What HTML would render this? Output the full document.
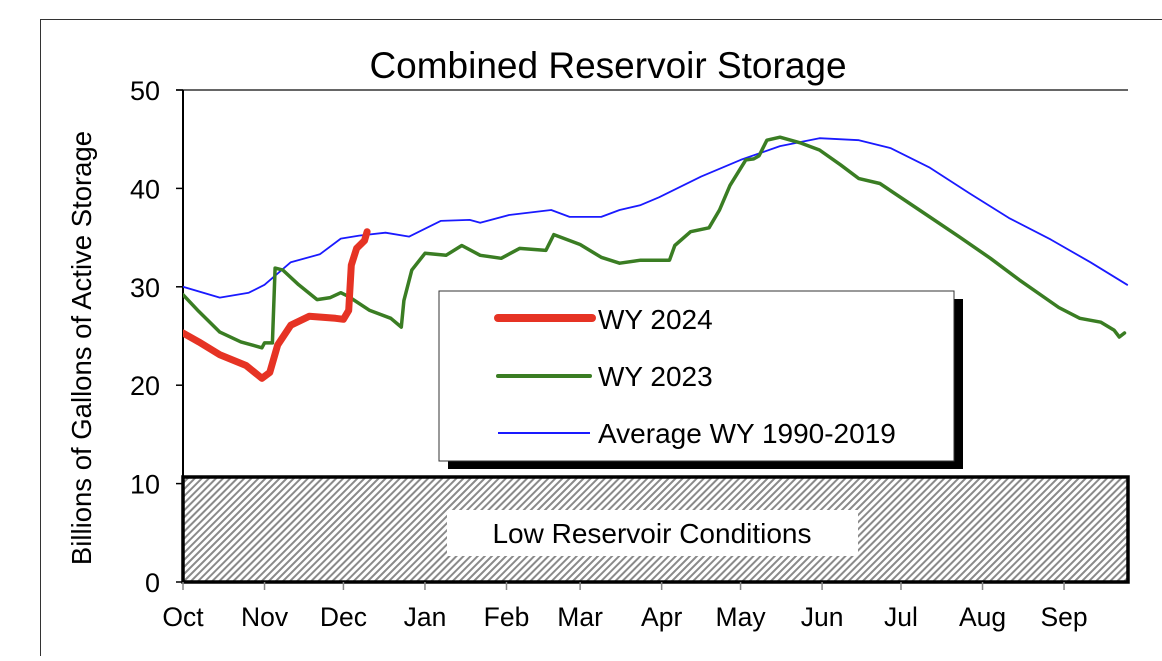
<!DOCTYPE html>
<html><head><meta charset="utf-8"><style>
body{margin:0;background:#fff;width:1162px;height:656px;overflow:hidden;font-family:"Liberation Sans",sans-serif}
svg text{font-family:"Liberation Sans",sans-serif;fill:#000}
</style></head><body>
<svg id="chart" width="1162" height="656" xmlns="http://www.w3.org/2000/svg">
<defs>
<pattern id="hatch" width="5" height="5" patternUnits="userSpaceOnUse" patternTransform="rotate(45)">
<rect width="5" height="5" fill="#fff"/><rect width="2" height="5" fill="#8a8a8a"/>
</pattern>
<clipPath id="plotclip"><rect x="183" y="80" width="946" height="503"/></clipPath>
</defs>
<rect x="40.5" y="19.5" width="1140" height="660" fill="none" stroke="#333" stroke-width="1"/>
<text x="608" y="78" font-size="37" text-anchor="middle">Combined Reservoir Storage</text>
<text transform="translate(91,348) rotate(-90)" font-size="27.5" text-anchor="middle">Billions of Gallons of Active Storage</text>
<line x1="176" y1="90" x2="1128" y2="90" stroke="#333" stroke-width="1.5"/>
<g>
<rect x="183" y="477" width="945" height="105" fill="url(#hatch)" stroke="#000" stroke-width="3.5"/>
<rect x="447" y="510" width="411" height="46" fill="#fff"/>
<text x="652" y="543" font-size="28" text-anchor="middle">Low Reservoir Conditions</text>
</g>
<g id="axes"></g>
<g id="series" clip-path="url(#plotclip)"></g>
<g>
<rect x="448" y="299" width="515" height="170" fill="#000"/>
<rect x="439" y="291" width="515" height="170" fill="#fff" stroke="#333" stroke-width="1"/>
<g><line x1="498" y1="318" x2="592" y2="318" stroke="#e63324" stroke-width="8" stroke-linecap="round"/><text x="598" y="329" font-size="28">WY 2024</text></g>
<g><line x1="498" y1="376" x2="590" y2="376" stroke="#3a7d23" stroke-width="4" stroke-linecap="round"/><text x="598" y="386" font-size="28">WY 2023</text></g>
<g><line x1="498" y1="433" x2="590" y2="433" stroke="#1a1aff" stroke-width="2"/><text x="598" y="443" font-size="28">Average WY 1990-2019</text></g>
</g>
</svg>
<script>
const monthLabels=["Oct","Nov","Dec","Jan","Feb","Mar","Apr","May","Jun","Jul","Aug","Sep"];
const monthStartDays=[0,31,61,92,123,151,182,212,243,273,304,335];
const yTicks=[0,10,20,30,40,50];
const avgDays=[0,14,25,31,41,52,60,67,77,86,98,109,113,124,140,147,159,166,174,181,197,212,227,242,257,269,284,299,314,330,345,359];
const avgValues=[30,28.9,29.4,30.2,32.5,33.3,34.9,35.2,35.5,35.1,36.7,36.8,36.5,37.3,37.8,37.1,37.1,37.8,38.3,39.1,41.2,42.9,44.3,45.1,44.9,44.1,42.1,39.5,37,34.8,32.5,30.2];
const wy2023Days=[0,6,14,22,30,31,34,35,38,44,51,56,60,63,71,79,83,84,87,92,100,106,113,121,128,138,141,151,159,166,174,185,187,193,200,204,208,214,217,219,222,227,235,242,250,257,265,280,295,307,318,333,341,349,354,356,358];
const wy2023Values=[29.2,27.5,25.4,24.4,23.8,24.3,24.3,31.9,31.7,30.2,28.7,28.9,29.4,29,27.6,26.8,25.9,28.6,31.7,33.4,33.2,34.2,33.2,32.9,33.9,33.7,35.3,34.3,33,32.4,32.7,32.7,34.2,35.6,36,37.8,40.3,42.9,43,43.3,44.9,45.2,44.6,43.9,42.4,41,40.5,37.8,35.1,32.9,30.7,27.9,26.8,26.4,25.6,24.9,25.3];
const wy2024Days=[0,6,14,24,30,33,36,41,48,58,61,63,64,66,69,70];
const wy2024Values=[25.3,24.4,23.1,22,20.7,21.3,24.1,26.1,27,26.8,26.7,27.6,32.2,33.9,34.7,35.6];

const NS="http://www.w3.org/2000/svg";
const xScale=d=>183+d*2.63;
const yScale=v=>582-v*9.84;
function mk(tag,attrs,parent){const e=document.createElementNS(NS,tag);for(const k in attrs)e.setAttribute(k,attrs[k]);parent.appendChild(e);return e;}
const axes=document.getElementById('axes');
const yAxis=mk('line',{x1:183,y1:90,x2:183,y2:583,stroke:'#000','stroke-width':2},axes);


yTicks.forEach(v=>{
  const t=mk('line',{x1:176,y1:yScale(v),x2:183,y2:yScale(v),stroke:'#000','stroke-width':1.5},axes);
  
  
  const l=mk('text',{x:160,y:yScale(v)+10,'font-size':27,'text-anchor':'end'},axes);
  l.textContent=v;
  
  
});
monthLabels.forEach((m,i)=>{
  const x=xScale(monthStartDays[i]);
  const t=mk('line',{x1:x,y1:582,x2:x,y2:590,stroke:'#888','stroke-width':1.5},axes);
  
  
  const l=mk('text',{x:x,y:626,'font-size':26.5,'text-anchor':'middle'},axes);
  l.textContent=m;
  
  
});
const series=document.getElementById('series');
function draw(days,vals,color,w,name){
  const d=days.map((x,i)=>(i?'L':'M')+xScale(x).toFixed(1)+','+yScale(vals[i]).toFixed(1)).join('');
  const p=mk('path',{d:d,fill:'none',stroke:color,'stroke-width':w,'stroke-linejoin':'round','stroke-linecap':'round'},series);
  
  
}
draw(avgDays,avgValues,'#1a1aff',1.8,'average-line');
draw(wy2023Days,wy2023Values,'#3a7d23',3.5,'wy2023-line');
draw(wy2024Days,wy2024Values,'#e63324',7,'wy2024-line');
</script>
</body></html>
